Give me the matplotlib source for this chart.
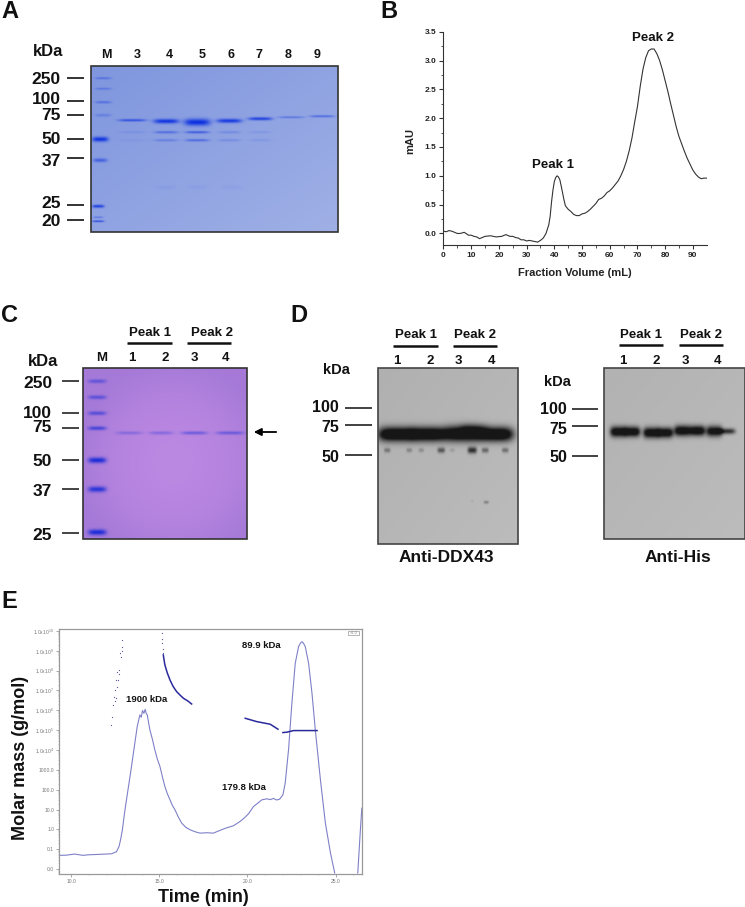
import numpy as np
import matplotlib
matplotlib.use("Agg")
import matplotlib.pyplot as plt
from matplotlib.patches import Rectangle

plt.rcParams['font.family'] = ['Liberation Sans', 'DejaVu Sans']
plt.rcParams['font.weight'] = 'bold'
plt.rcParams['mathtext.default'] = 'regular'

# ---------- data: panel B (elution profile) ----------
volume_ml = [0, 1, 2, 3, 4, 5, 6, 7.5, 9, 10, 11, 12, 13, 14, 15, 17, 19, 21, 22.5, 24, 25, 26, 27, 28, 29, 30, 31,
             32, 33, 34, 35, 36, 37, 38, 38.5, 39, 39.5, 40, 40.5, 41, 41.5, 42, 42.5, 43, 43.5, 44, 45, 46, 47,
             48, 49, 50, 51, 52, 53, 54, 55, 56, 57, 58, 59, 60, 61, 62, 63, 64, 65, 66, 67, 68, 69, 70, 71, 72,
             73, 74, 75, 76, 77, 78, 79, 80, 81, 82, 83, 84, 85, 86, 87, 88, 89, 90, 91, 92, 93, 94, 95]
absorbance = [0.04, 0.03, 0.05, 0.04, 0.02, 0.0, 0.0, 0.02, -0.03, -0.03, -0.05, -0.06, -0.09, -0.07, -0.05, -0.04,
              -0.06, -0.05, -0.02, -0.05, -0.05, -0.07, -0.08, -0.11, -0.11, -0.13, -0.12, -0.13, -0.14, -0.15,
              -0.12, -0.08, 0.0, 0.15, 0.3, 0.55, 0.75, 0.9, 0.97, 1.0, 0.98, 0.93, 0.82, 0.7, 0.58, 0.48, 0.42,
              0.38, 0.33, 0.31, 0.31, 0.34, 0.35, 0.38, 0.42, 0.47, 0.52, 0.59, 0.61, 0.65, 0.71, 0.74, 0.79, 0.85,
              0.91, 1.0, 1.11, 1.25, 1.43, 1.65, 1.93, 2.2, 2.55, 2.85, 3.05, 3.17, 3.2, 3.2, 3.12, 3.0, 2.84, 2.65,
              2.46, 2.25, 2.05, 1.85, 1.68, 1.55, 1.42, 1.3, 1.2, 1.1, 1.03, 0.98, 0.95, 0.96, 0.96]

# ---------- data: panel E (log10 of the values, the axis is logarithmic) ----------
time_min = [9.30, 9.72, 10.19, 10.66, 11.0, 11.61, 12.28, 12.56, 12.71, 12.80, 12.90, 13.00, 13.13, 13.36, 13.55,
            13.74, 13.89, 13.97, 14.04, 14.12, 14.19, 14.25, 14.31, 14.46, 14.60, 14.74, 14.88, 15.03, 15.17, 15.31,
            15.45, 15.60, 15.74, 15.88, 16.06, 16.26, 16.50, 16.74, 17.02, 17.31, 17.7, 18.06, 18.44, 18.82, 19.2,
            19.58, 19.85, 20.06, 20.34, 20.58, 20.82, 21.10, 21.3, 21.48, 21.65, 21.82, 22.01, 22.14, 22.33, 22.52,
            22.71, 22.90, 23.00, 23.09, 23.18, 23.28, 23.47, 23.66, 23.85, 24.14, 24.42, 24.71, 24.95]
log_signal = [-1.31, -1.30, -1.245, -1.31, -1.28, -1.26, -1.23, -1.13, -0.86, -0.5, -0.02, 0.7, 1.49, 2.83, 4.01,
              5.18, 5.77, 5.65, 5.99, 5.85, 6.05, 5.85, 5.77, 5.01, 4.55, 4.01, 3.55, 3.17, 2.65, 2.16,
              1.8, 1.49, 1.2, 0.99, 0.65, 0.32, 0.1, -0.02, -0.12, -0.19, -0.17, -0.19, -0.05, 0.08, 0.18,
              0.40, 0.6, 0.79, 1.15, 1.32, 1.49, 1.54, 1.5, 1.56, 1.48, 1.52, 1.74, 2.33, 4.01, 6.36,
              8.37, 9.21, 9.38, 9.46, 9.38, 9.21, 8.37, 6.86, 5.01, 2.50, 0.32, -1.19, -2.2]
spike_time = [26.26, 26.41, 26.49]
spike_log = [-2.2, 0.0, 1.07]

scatter_time = [12.28, 12.32, 12.37, 12.43, 12.47, 12.50, 12.54, 12.56, 12.60, 12.62, 12.66, 12.71, 12.73,
                12.79, 12.82, 12.85, 12.88, 12.90, 15.16, 15.16, 15.17, 15.18, 15.20]
scatter_log = [5.27, 5.68, 6.27, 6.69, 6.45, 7.03, 6.60, 7.53, 7.20, 7.95, 7.55, 8.03, 7.85, 8.87, 8.70,
               9.21, 9.0, 9.54, 9.88, 9.60, 9.38, 9.10, 8.87]
frag_time = [[15.22, 15.31, 15.45, 15.60, 15.78, 15.98, 16.18, 16.36, 16.60, 16.83], [19.87, 20.53, 21.29, 21.73],
             [22.01, 22.24, 22.62, 23.38, 23.95]]
frag_log = [[8.79, 8.29, 7.88, 7.53, 7.20, 6.94, 6.76, 6.61, 6.48, 6.32], [5.60, 5.43, 5.30, 5.05],
            [4.88, 4.90, 4.98, 4.98, 4.98]]

mass_ticks = [-2, -1, 0, 1, 2, 3, 4, 5, 6, 7, 8, 9, 10]
mass_labels = ['0.0', '0.1', '1.0', '10.0', '100.0', '1000.0', '1.0x10$^{4}$', '1.0x10$^{5}$', '1.0x10$^{6}$',
               '1.0x10$^{7}$', '1.0x10$^{8}$', '1.0x10$^{9}$', '1.0x10$^{10}$']

# ---------- data: gels (band strength per lane) ----------
a_lanes = ['M', '3', '4', '5', '6', '7', '8', '9']
a_kda = ['250', '100', '75', '50', '37', '25', '20']
a_main = [0.7, 0.95, 1.0, 0.9, 0.85, 0.4, 0.5]
a_upper = [0.12, 0.45, 0.6, 0.22, 0.12, 0, 0]
a_lower = [0.07, 0.3, 0.5, 0.2, 0.12, 0, 0]
a_marker = [0.4, 0.35, 0.4, 0.25, 0.95, 0.55, 0.85, 0.4, 0.8]

c_lanes = ['M', '1', '2', '3', '4']
c_kda = ['250', '100', '75', '50', '37', '25']
c_main = [0.3, 0.33, 0.48, 0.48]
c_marker = [0.5, 0.55, 0.6, 0.7, 1.0, 0.9, 1.0]

d_kda = ['100', '75', '50']
d_spots = [0.4, 0.3, 0.25, 0.6, 0.15, 0.85, 0.5, 0.45]
his_main = [1.3, 1.3, 1.3, 1.2]

fig = plt.figure(figsize=(7.45, 9.07), dpi=100)
W, H = 745, 907


def px_axes(l, t, r, b):
    return fig.add_axes([l / W, 1 - b / H, (r - l) / W, (b - t) / H])


# overlay in picture pixels for the gels and all the labels
ov = fig.add_axes([0, 0, 1, 1], zorder=5)
ov.patch.set_alpha(0)
ov.axis('off')


def txt(x, y, s, size=12, ha='center', **kw):
    ov.text(x, y, s, fontsize=size, ha=ha, va='center', color=kw.pop('color', '#111111'), **kw)


def ticks(x0, x1, ys, color='#333333', lw=1.4):
    for y in ys:
        ov.plot([x0, x1], [y, y], color=color, lw=lw, solid_capstyle='butt')


def gel(box, bg_a, bg_b, band_rgb, bands, mode='linear', edge='#333333'):
    x0, y0, x1, y1 = box
    xs = np.arange(x0, x1, 0.5)
    ys = np.arange(y0, y1, 0.5)
    xx, yy = np.meshgrid(xs, ys)
    u = (xx - x0) / (x1 - x0)
    v = (yy - y0) / (y1 - y0)
    if mode == 'linear':
        t = (u + v) / 2
    else:
        t = np.clip(1 - ((u - 0.55) ** 2 + (v - 0.55) ** 2) * 3, 0, 1)
    t = t[..., None]
    img = np.array(bg_a) * (1 - t) + np.array(bg_b) * t
    alpha = np.zeros_like(xx)
    for cx, cy, hw, hh, s in bands:
        alpha += s * np.exp(-np.abs((xx - cx) / hw) ** 4) * np.exp(-((yy - cy) / hh) ** 2)
    alpha = np.clip(alpha, 0, 1)[..., None]
    img = img * (1 - alpha) + np.array(band_rgb) * alpha
    ov.imshow(img, extent=(x0, x1, y1, y0), aspect='auto', interpolation='bilinear')
    ov.add_patch(Rectangle((x0, y0), x1 - x0, y1 - y0, fill=False, ec=edge, lw=1.2))


def rgb(c):
    return matplotlib.colors.to_rgb(c)


# ---------- A ----------
txt(10, 11, 'A', 17)
txt(48, 52, 'kDa', 12)
for x, s in zip([106, 137, 169, 202, 231, 259, 288, 317], a_lanes):
    txt(x, 55, s, 9)
for y, s in zip([79, 100, 116, 139, 162, 204, 221], a_kda):
    txt(61, y, s, 12.5, ha='right')
ticks(67, 84, [78, 101, 114.5, 138.5, 158, 205, 220])

a_bands = []
for y, hw, hh, s in zip([78, 88.5, 102, 115, 139, 160, 206, 217, 221],
                        [8, 8, 8, 8, 8, 7, 6, 5, 6], [1, 1, 1.2, 1.5, 2.4, 1.8, 1.5, 0.8, 0.8], a_marker):
    cx = 103 if y < 130 else (100 if y < 165 else 98)
    a_bands.append((cx, y, hw, hh, s))
for cx, cy, hw, hh, s in zip([132, 166, 197, 229, 260, 291, 322], [120, 121, 122, 120.6, 118.5, 117, 116],
                             [14, 12.5, 13, 12.5, 12, 13, 12.5], [1.2, 2.2, 3.4, 2.0, 1.5, 1.0, 1.1], a_main):
    a_bands.append((cx, cy, hw, hh, s))
for cx, hw, up, low in zip([132, 166, 197, 229, 260, 291, 322], [14, 12, 12, 11, 11, 12, 12], a_upper, a_lower):
    a_bands.append((cx, 132, hw, 1.2, up))
    a_bands.append((cx, 140, hw, 1.2, low))
for cx in [166, 197, 232]:
    a_bands.append((cx, 187, 10, 2, 0.06))
gel((91, 66, 338, 232), rgb('#7f96de'), rgb('#a0b0e6'), rgb('#0a2fe0'), a_bands)

# ---------- B ----------
ax_b = px_axes(443.5, 31.7, 706.7, 245)
ax_b.plot(volume_ml, absorbance, color='#333333', lw=0.8)
ax_b.set_xlim(0, 95)
ax_b.set_ylim(-0.2, 3.5)
ax_b.set_xticks(np.arange(0, 91, 10))
ax_b.set_xticks(np.arange(0, 95, 5), minor=True)
ax_b.set_yticks(np.arange(0, 3.6, 0.5))
ax_b.set_yticks(np.arange(0, 3.6, 0.25), minor=True)
ax_b.spines['top'].set_visible(False)
ax_b.spines['right'].set_visible(False)
for sp in ax_b.spines.values():
    sp.set_color('#333333')
    sp.set_linewidth(0.8)
ax_b.tick_params(labelsize=6, length=3, width=0.8, color='#333333', labelcolor='#222222', pad=2)
ax_b.tick_params(which='minor', length=1.8, width=0.6, color='#333333')
txt(389, 11, 'B', 17)
txt(553, 165, 'Peak 1', 9.5)
txt(653, 38, 'Peak 2', 9.5)
txt(575, 273, 'Fraction Volume (mL)', 8, color='#222222')
txt(410, 141, 'mAU', 8, rotation=90, color='#222222')

# ---------- C ----------
txt(10, 315, 'C', 17)
txt(43, 362, 'kDa', 12)
for x, s in zip([102, 132, 165, 194, 226], c_lanes):
    txt(x, 358, s, 9.5)
for y, s in zip([383, 413, 428, 462, 492, 535], c_kda):
    txt(52, y, s, 12.5, ha='right')
ticks(62, 79, [381, 413, 428, 460, 489, 533], color='#444444')
for x, s in zip([150, 212], ['Peak 1', 'Peak 2']):
    txt(x, 333, s, 9.5)
ticks(127, 172, [343], color='#111111', lw=1.8)
ticks(187, 231, [343], color='#111111', lw=1.8)
ov.annotate('', xy=(251, 432), xytext=(279, 432),
            arrowprops=dict(arrowstyle='-|>', color='black', lw=1.3, mutation_scale=11))

c_bands = []
for y, s in zip([381, 397, 413, 428, 460, 489, 532], c_marker):
    c_bands.append((97, y, 9, 1.9 if y < 450 else 2.8, s))
for cx, hw, s in zip([129, 161, 194, 230], [13, 12, 13, 14], c_main):
    c_bands.append((cx, 432.7, hw, 1.6, s))
gel((83, 368, 247, 539), rgb('#a67ad8'), rgb('#bb88e2'), rgb('#1c2cd8'), c_bands, mode='radial')

# ---------- D ----------
txt(299, 315, 'D', 17)
for x0, x1, y_ln in [(393, 438, 346), (453, 497, 346), (619, 663, 345), (679, 723, 345)]:
    ticks(x0, x1, [y_ln], color='#111111', lw=1.8)
    txt((x0 + x1) / 2 + 0.5, 335, 'Peak 1' if x0 in (393, 619) else 'Peak 2', 9.5)
for x, s in zip([397, 430, 458, 492, 623, 656, 685, 718], list('12341234')):
    txt(x, 361, s, 9.5)
txt(336, 370, 'kDa', 10.5)
txt(557, 382, 'kDa', 10.5)
for y, s in zip([408, 427, 457], d_kda):
    txt(339, y, s, 11.5, ha='right')
for y, s in zip([409, 429, 458], d_kda):
    txt(567, y, s, 11.5, ha='right')
ticks(345, 372, [407.5, 425, 455], lw=1.3)
ticks(572, 598, [409, 426, 456], lw=1.3)
txt(446, 558, 'Anti-DDX43', 12.5)
txt(678, 558, 'Anti-His', 12.5)

ddx_bands = [(396, 434, 18, 7, 1.5), (428, 434, 18, 7, 1.5), (462, 433.5, 18, 7.5, 1.5), (495, 434, 18, 7, 1.5),
             (474, 428, 14, 5, 0.3), (486, 502, 2.5, 1.5, 0.35), (472, 501, 1, 1, 0.12)]
for cx, s in zip([387, 409, 421, 441, 452, 472, 485, 505], d_spots):
    ddx_bands.append((cx, 450, 2 + 3 * s, 1.5 + 2 * s, s))
gel((378, 368, 518, 544), rgb('#b0b0b0'), rgb('#bcbcbc'), rgb('#161616'), ddx_bands, edge='#444444')

his_bands = []
for (c1, c2), cy, s in zip([(618, 632), (651, 665), (682, 697), (714, 727)], [431.5, 432.5, 430.5, 431], his_main):
    his_bands.append((c1, cy, 8, 5.2, s))
    his_bands.append((c2, cy, 8, 5.0 if c2 != 727 else 2.8, s if c2 != 727 else 0.85))
gel((604, 368, 745, 539), rgb('#b2b2b2'), rgb('#bcbcbc'), rgb('#161616'), his_bands, edge='#444444')

# ---------- E ----------
ax_e = px_axes(59, 629, 362, 874)
ax_e.plot(time_min, 10.0 ** np.array(log_signal), color='#7f80c8', lw=0.8)
ax_e.plot(spike_time, 10.0 ** np.array(spike_log), color='#7f80c8', lw=0.8)
ax_e.scatter(scatter_time, 10.0 ** np.array(scatter_log), s=0.8, color='#555599', linewidths=0)
for t, m in zip(frag_time, frag_log):
    ax_e.plot(t, 10.0 ** np.array(m), color='#2a2a9c', lw=1.1)
ax_e.set_yscale('log')
ax_e.set_xlim(9.3, 26.5)
ax_e.set_ylim(10 ** -2.25, 10 ** 10.1)
ax_e.set_xticks([10, 15, 20, 25])
ax_e.set_xticklabels(['10.0', '15.0', '20.0', '25.0'], fontweight='normal')
ax_e.set_xticks(np.arange(10, 26.5, 1), minor=True)
ax_e.set_yticks([10.0 ** k for k in mass_ticks])
ax_e.set_yticklabels(mass_labels, fontweight='normal')
ax_e.yaxis.set_minor_locator(matplotlib.ticker.LogLocator(base=10, subs=np.arange(2, 10), numticks=20))
ax_e.yaxis.set_minor_formatter(matplotlib.ticker.NullFormatter())
for sp in ax_e.spines.values():
    sp.set_color('#999999')
    sp.set_linewidth(0.9)
ax_e.tick_params(labelsize=3.6, length=2, width=0.5, color='#888888', labelcolor='#777777', pad=1.5)
ax_e.tick_params(which='minor', length=1, width=0.4, color='#999999')
txt(9, 601, 'E', 17)
txt(147, 699, '1900 kDa', 6.8)
txt(261, 645, '89.9 kDa', 6.8)
txt(244, 788, '179.8 kDa', 6.8)
txt(21, 758, 'Molar mass (g/mol)', 13, rotation=90)
txt(203, 897, 'Time (min)', 13)
ov.add_patch(Rectangle((348, 630.5), 11, 4.5, fc='white', ec='#999999', lw=0.5))
ov.text(353.5, 632.8, '×1.0', fontsize=2.8, ha='center', va='center', color='#888888', fontweight='normal')

ov.set_xlim(0, W)
ov.set_ylim(H, 0)

fig.savefig('out.png', dpi=100)
